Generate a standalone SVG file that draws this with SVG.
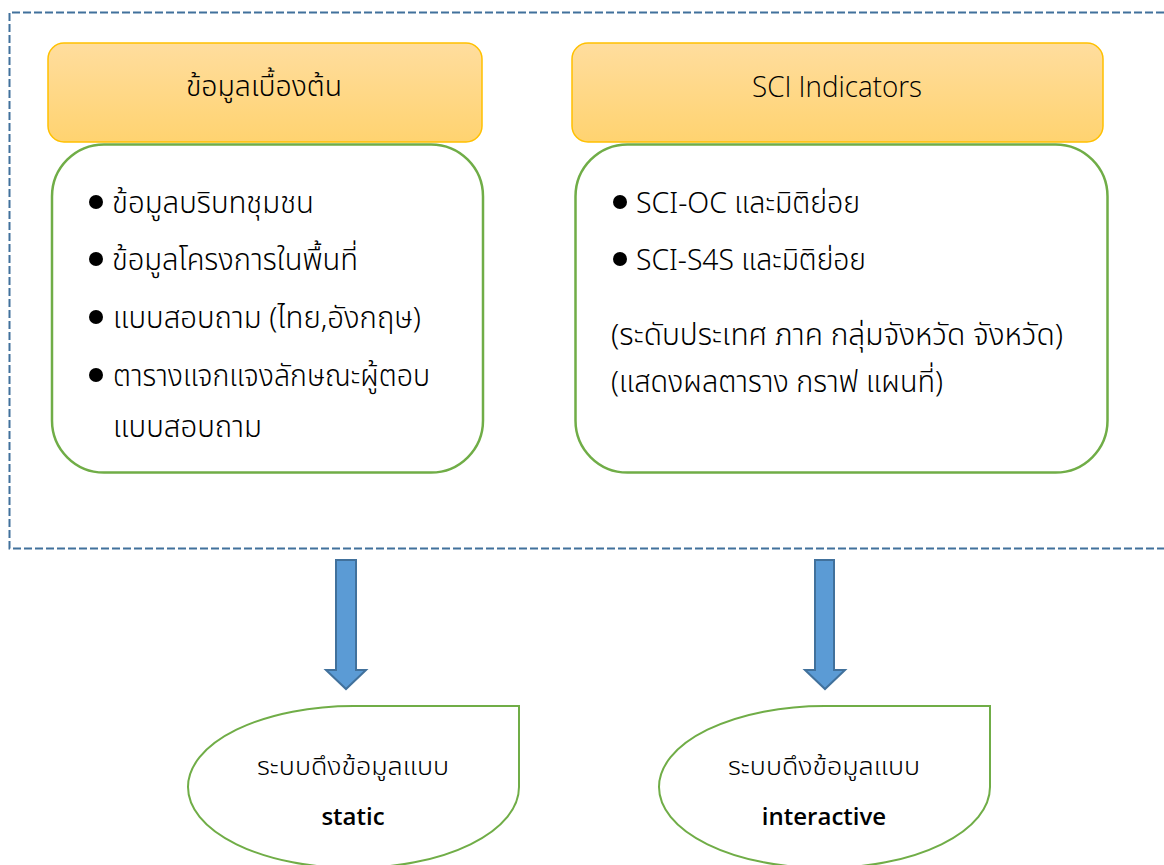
<svg xmlns="http://www.w3.org/2000/svg" width="1164" height="865" viewBox="0 0 1164 865">
<defs>
<linearGradient id="hdr" x1="0" y1="0" x2="0" y2="1">
<stop offset="0" stop-color="#FFDD9E"/>
<stop offset="1" stop-color="#FFD370"/>
</linearGradient>
<style>
.frame{fill:none;stroke:#41719C;stroke-width:2;stroke-dasharray:8 3}
.hdr{fill:url(#hdr);stroke:#FFC000;stroke-width:1.5}
.box{fill:#FFFFFF;stroke:#70AD47;stroke-width:2.5}
.drop{fill:#FFFFFF;stroke:#70AD47;stroke-width:2}
.arrow{fill:#5B9BD5;stroke:#41719C;stroke-width:2}
.th{font-family:"Noto Sans Thai","Noto Sans Thai Looped","Noto Sans",Tahoma,sans-serif;font-weight:300;fill:#000}
.lat{font-family:"Open Sans","Liberation Sans",sans-serif;fill:#000}
.b{font-size:30px}
.h{font-size:29px}
.s{font-size:25px}
.bul{fill:#000}
</style>
</defs>
<rect width="1164" height="865" fill="#FFFFFF"/>
<g id="frame">
<path class="frame" d="M1164,12.5 H9.5 V548.5 H1164"/>
</g>
<g id="node-basic-header">
<rect class="hdr" x="48" y="43" width="434" height="99" rx="16"/>
<text class="th h" x="264" y="96" text-anchor="middle" textLength="156" lengthAdjust="spacingAndGlyphs">ข้อมูลเบื้องต้น</text>
</g>
<g id="node-basic-list">
<rect class="box" x="52" y="144.5" width="431" height="328" rx="52"/>
<circle class="bul" cx="96" cy="202" r="7"/>
<text class="th b" x="112" y="213" textLength="202" lengthAdjust="spacingAndGlyphs">ข้อมูลบริบทชุมชน</text>
<circle class="bul" cx="96" cy="259" r="7"/>
<text class="th b" x="112" y="270" textLength="246" lengthAdjust="spacingAndGlyphs">ข้อมูลโครงการในพื้นที่</text>
<circle class="bul" cx="96" cy="317" r="7"/>
<text class="th b" x="113" y="328" textLength="308" lengthAdjust="spacingAndGlyphs">แบบสอบถาม (ไทย,อังกฤษ)</text>
<circle class="bul" cx="96" cy="375" r="7"/>
<text class="th b" x="113" y="386" textLength="317" lengthAdjust="spacingAndGlyphs">ตารางแจกแจงลักษณะผู้ตอบ</text>
<text class="th b" x="113" y="437" textLength="149" lengthAdjust="spacingAndGlyphs">แบบสอบถาม</text>
</g>
<g id="node-sci-header">
<rect class="hdr" x="572" y="43" width="531" height="99" rx="16"/>
<text class="lat" x="837" y="97" font-size="28.5" font-weight="300" text-anchor="middle" textLength="170" lengthAdjust="spacingAndGlyphs">SCI Indicators</text>
</g>
<g id="node-sci-list">
<rect class="box" x="575.5" y="144.5" width="532" height="328" rx="52"/>
<circle class="bul" cx="620" cy="202" r="7"/>
<text class="th b" x="636" y="213" textLength="224" lengthAdjust="spacingAndGlyphs">SCI-OC และมิติย่อย</text>
<circle class="bul" cx="620" cy="259" r="7"/>
<text class="th b" x="636" y="270" textLength="230" lengthAdjust="spacingAndGlyphs">SCI-S4S และมิติย่อย</text>
<text class="th b" x="611" y="345" textLength="452" lengthAdjust="spacingAndGlyphs">(ระดับประเทศ ภาค กลุ่มจังหวัด จังหวัด)</text>
<text class="th b" x="611" y="392" textLength="332" lengthAdjust="spacingAndGlyphs">(แสดงผลตาราง กราฟ แผนที่)</text>
</g>
<g id="connectors">
<path class="arrow" d="M336,560 H356 V670 H366 L346,689 L326,670 H336 Z"/>
<path class="arrow" d="M815,560 H834 V670 H845 L825,689 L805,670 H815 Z"/>
</g>
<g id="node-static">
<path class="drop" d="M188,787 A165.5,81 0 0 1 353.5,706 L519,706 L519,787 A165.5,81 0 0 1 353.5,868 A165.5,81 0 0 1 188,787 Z"/>
<text class="th s" x="353" y="775" text-anchor="middle" textLength="192" lengthAdjust="spacingAndGlyphs">ระบบดึงข้อมูลแบบ</text>
<text class="lat" x="353" y="825" font-size="24" font-weight="600" text-anchor="middle">static</text>
</g>
<g id="node-interactive">
<path class="drop" d="M659,787 A165.5,81 0 0 1 824.5,706 L990,706 L990,787 A165.5,81 0 0 1 824.5,868 A165.5,81 0 0 1 659,787 Z"/>
<text class="th s" x="824" y="775" text-anchor="middle" textLength="192" lengthAdjust="spacingAndGlyphs">ระบบดึงข้อมูลแบบ</text>
<text class="lat" x="824" y="825" font-size="24" font-weight="600" text-anchor="middle">interactive</text>
</g>
</svg>
